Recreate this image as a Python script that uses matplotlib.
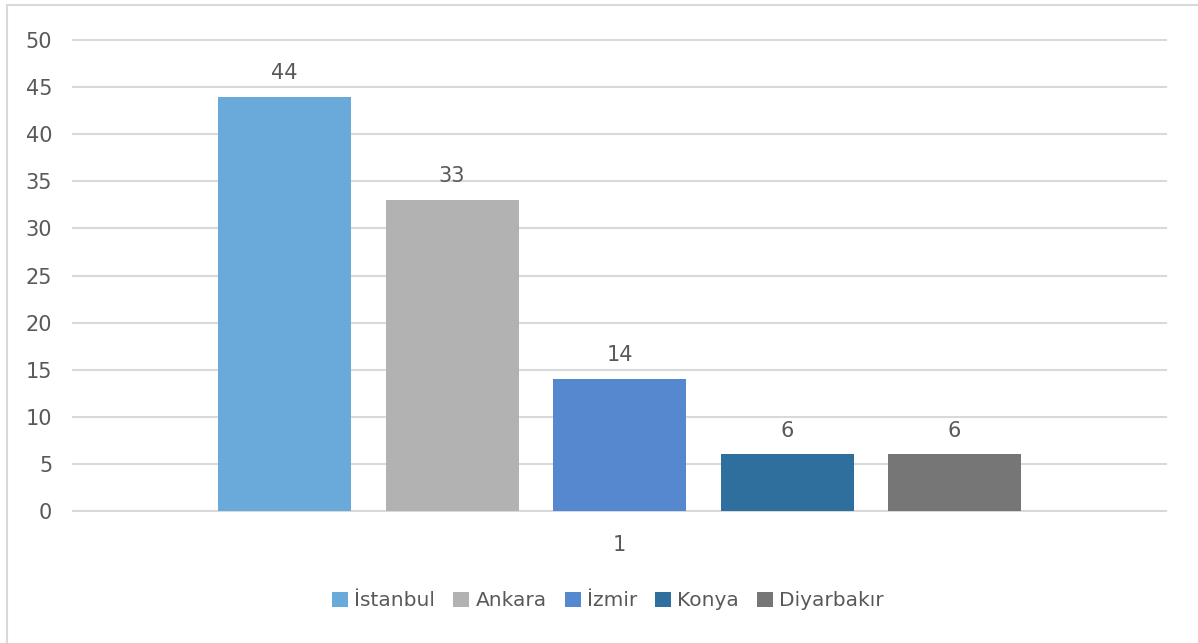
import matplotlib.pyplot as plt
from matplotlib.patches import Rectangle

cities = ["İstanbul", "Ankara", "İzmir", "Konya", "Diyarbakır"]
values = [44, 33, 14, 6, 6]
colors = ["#6AAADB", "#B2B2B2", "#5588CF", "#2E6F9E", "#767676"]
category = "1"

txt = "#595959"
grid = "#D9D9D9"

fig = plt.figure(figsize=(11.98, 6.43), dpi=100)
ax = fig.add_axes([73 / 1198, 1 - 511 / 643, (1166 - 73) / 1198, (511 - 40) / 643])

# chart border (cropped on right and bottom)
fig.patches.append(Rectangle((7 / 1198, -0.1), 1.2, 1 - 5 / 643 + 0.1,
                             transform=fig.transFigure, fill=False,
                             edgecolor=grid, linewidth=1.5))

step = 167.5 / 1093
width = 133 / 1093
n = len(values)
for i, (c, v, col) in enumerate(zip(cities, values, colors)):
    x = (i - (n - 1) / 2) * step
    ax.bar(x, v, width=width, color=col, label=c, zorder=3)
    ax.annotate(str(v), (x, v), xytext=(0, 10), textcoords="offset points",
                ha="center", va="bottom", fontsize=15, color=txt)

ax.set_xlim(-0.5, 0.5)
ax.set_ylim(0, 50)
ax.set_yticks(range(0, 51, 5))
ax.set_xticks([0])
ax.set_xticklabels([category])
ax.yaxis.grid(True, color=grid, linewidth=1.5, zorder=0)
for gl in ax.get_ygridlines():
    gl.set_clip_on(False)
for s in ax.spines.values():
    s.set_visible(False)
ax.tick_params(axis="both", length=0, labelsize=15, colors=txt)
ax.tick_params(axis="y", pad=15)
ax.tick_params(axis="x", pad=17)

leg = fig.legend(loc="center", bbox_to_anchor=(608 / 1198, 1 - 601 / 643),
                 ncol=5, frameon=False, fontsize=14.5, handlelength=0.8,
                 handleheight=0.8, handletextpad=0.3, columnspacing=0.9)
for t in leg.get_texts():
    t.set_color(txt)

fig.savefig("out.png", dpi=100)
